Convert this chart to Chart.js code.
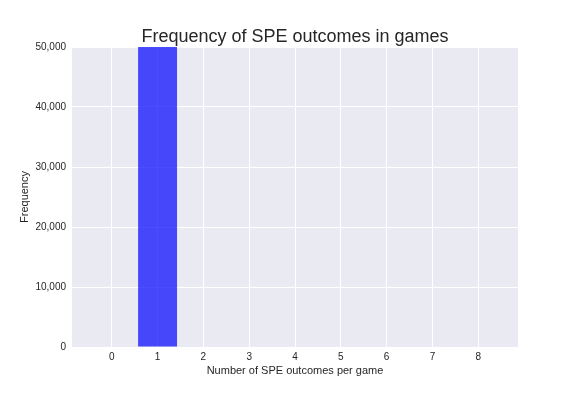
<!DOCTYPE html>
<html>
<head>
<meta charset="utf-8">
<script src="https://cdn.jsdelivr.net/npm/chart.js@4/dist/chart.umd.min.js"></script>
<style>
  html, body { margin: 0; padding: 0; background: #ffffff; }
  #wrap { width: 576px; height: 396px; }
</style>
</head>
<body>
<div id="wrap"><canvas id="c" width="576" height="396"></canvas></div>
<script>
// Data (bar at 1 extends beyond the 50,000 limit)
const outcomes = [0, 1, 2, 3, 4, 5, 6, 7, 8];
const frequency = [0, 60000, 0, 0, 0, 0, 0, 0, 0];
const xTicks = [0, 1, 2, 3, 4, 5, 6, 7, 8];
const yTicks = [0, 10000, 20000, 30000, 40000, 50000];
const chartTitle = 'Frequency of SPE outcomes in games';

const FONT = "'Liberation Sans', Arial, sans-serif";
const TXT = '#262626';

const bgPlugin = {
  id: 'plotBg',
  beforeDraw(chart) {
    const {ctx, chartArea: a} = chart;
    ctx.save();
    ctx.fillStyle = '#EAEAF2';
    ctx.fillRect(a.left, a.top, a.right - a.left, a.bottom - a.top);
    ctx.restore();
  },
  afterDraw(chart) {
    const {ctx, chartArea: a} = chart;
    ctx.save();
    ctx.fillStyle = TXT;
    ctx.font = '18px ' + FONT;
    ctx.textAlign = 'center';
    ctx.textBaseline = 'alphabetic';
    ctx.fillText(chartTitle, (a.left + a.right) / 2, 42);
    ctx.restore();
  }
};

new Chart(document.getElementById('c'), {
  type: 'bar',
  data: {
    datasets: [{
      data: outcomes.map((x, i) => ({x: x, y: frequency[i]})),
      backgroundColor: 'rgba(0,0,255,0.7)',
      borderWidth: 0,
      categoryPercentage: 1.0,
      barPercentage: 0.85
    }]
  },
  options: {
    responsive: false,
    animation: false,
    devicePixelRatio: 1,
    layout: { padding: { left: 0, right: 58, top: 47, bottom: 0 } },
    plugins: {
      legend: { display: false },
      tooltip: { enabled: false },
      title: { display: false }
    },
    scales: {
      x: {
        type: 'linear',
        min: -0.8675,
        max: 8.8675,
        offset: false,
        border: { display: false },
        grid: { color: '#ffffff', lineWidth: 1, drawTicks: false, offset: false },
        ticks: {
          color: TXT,
          font: { family: FONT, size: 10 },
          padding: 4,
          maxRotation: 0,
          includeBounds: false
        },
        afterBuildTicks(scale) { scale.ticks = xTicks.map(v => ({value: v})); },
        afterFit(scale) { scale.height = 49; },
        title: {
          display: true,
          text: 'Number of SPE outcomes per game',
          color: TXT,
          font: { family: FONT, size: 11 },
          padding: { top: 0, bottom: 18.5 }
        }
      },
      y: {
        type: 'linear',
        min: 0,
        max: 50000,
        border: { display: false },
        grid: { color: '#ffffff', lineWidth: 1, drawTicks: false },
        ticks: {
          color: TXT,
          font: { family: FONT, size: 10 },
          padding: 6,
          callback: v => v.toLocaleString('en-US')
        },
        afterBuildTicks(scale) { scale.ticks = yTicks.map(v => ({value: v})); },
        afterFit(scale) { scale.width = 72; },
        title: {
          display: true,
          text: 'Frequency',
          color: TXT,
          font: { family: FONT, size: 11 },
          padding: { top: 18, bottom: 0 }
        }
      }
    }
  },
  plugins: [bgPlugin]
});
</script>
</body>
</html>
